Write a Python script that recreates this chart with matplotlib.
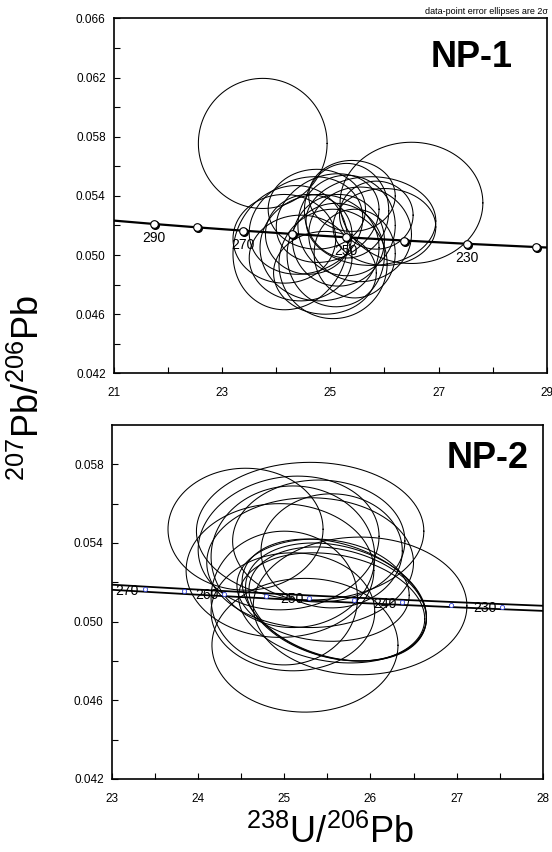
import numpy as np
import matplotlib
matplotlib.use("Agg")
import matplotlib.pyplot as plt
from matplotlib.ticker import FixedLocator, FormatStrFormatter
import matplotlib.transforms as mtransforms

plt.rcParams['font.family'] = ['Liberation Sans', 'DejaVu Sans']
plt.rcParams['mathtext.default'] = 'regular'

# ---------------- data ----------------
# Concordia (ages in Ma, 238U/206Pb, 207Pb/206Pb)
conc1_age = [300, 290, 280, 270, 260, 250, 240, 230, 220, 210]
conc1_x = [20.992, 21.732, 22.527, 23.379, 24.297, 25.289, 26.363, 27.531, 28.804, 30.200]
conc1_y = [0.052333, 0.052104, 0.051877, 0.051652, 0.051427, 0.051203, 0.050982, 0.050761, 0.050542, 0.050324]
conc1_marker_ages = [290, 280, 270, 260, 250, 240, 230, 220]
conc1_label_ages = [290, 270, 250, 230]

conc2_age = [275, 270, 265, 260, 255, 250, 245, 240, 235, 230, 225]
conc2_x = [22.945, 23.379, 23.830, 24.297, 24.783, 25.289, 25.815, 26.363, 26.935, 27.531, 28.154]
conc2_y = [0.051764, 0.051652, 0.051539, 0.051427, 0.051315, 0.051203, 0.051092, 0.050982, 0.050871, 0.050761, 0.050651]
conc2_band = 0.00013
conc2_marker_ages = [270, 265, 260, 255, 250, 245, 240, 235, 230]
conc2_label_ages = [270, 260, 250, 240, 230]

# tick values
np1_xticks = [21, 23, 25, 27, 29]
np1_xminor = [22, 24, 26, 28]
np1_yticks = [0.042, 0.046, 0.050, 0.054, 0.058, 0.062, 0.066]
np1_yminor = [0.044, 0.048, 0.052, 0.056, 0.060, 0.064]
np2_xticks = [23, 24, 25, 26, 27, 28]
np2_xminor = [23.5, 24.5, 25.5, 26.5, 27.5]
np2_yticks = [0.042, 0.046, 0.050, 0.054, 0.058]
np2_yminor = [0.044, 0.048, 0.052, 0.056]

# NP-1 error ellipses: centre x, centre y, half-width x, half-height y, correlation
np1_cx = [23.75, 26.50, 24.26, 24.15, 24.55, 24.80, 25.05, 25.30, 25.40, 25.75, 25.55,
          24.95, 25.15, 24.45, 25.10, 25.85, 24.75, 25.45, 24.60, 26.00, 24.90, 25.30]
np1_cy = [0.05755, 0.05353, 0.0505, 0.0511, 0.0520, 0.0505, 0.0494, 0.0530, 0.0540, 0.0523, 0.0514,
          0.0525, 0.0510, 0.0498, 0.0500, 0.0527, 0.0531, 0.0501, 0.0514, 0.0519, 0.0488, 0.0520]
np1_rx = [1.19, 1.32, 1.06, 0.95, 1.05, 1.10, 1.00, 0.78, 0.80, 1.20, 0.95,
          0.95, 0.85, 0.95, 0.90, 0.68, 0.90, 0.75, 0.80, 0.95, 0.95, 0.90]
np1_ry = [0.0044, 0.0041, 0.0042, 0.0030, 0.0033, 0.0036, 0.0037, 0.0032, 0.0024, 0.0030, 0.0032,
          0.0030, 0.0031, 0.0029, 0.0035, 0.0023, 0.0027, 0.0030, 0.0027, 0.0026, 0.0028, 0.0034]
np1_rho = [0.0, 0.0, 0.1, 0.0, 0.15, 0.0, 0.0, 0.0, 0.0, 0.0, 0.0,
           0.2, 0.0, 0.0, 0.0, 0.0, 0.0, 0.0, 0.0, 0.0, 0.0, 0.0]

# NP-2 error ellipses
np2_cx = [24.55, 25.30, 25.05, 25.40, 25.55, 24.95, 25.30, 25.10,
          25.24, 25.88, 25.60, 25.62, 25.58, 25.55, 25.10, 25.00, 25.45]
np2_cy = [0.0547, 0.0546, 0.0540, 0.0541, 0.0536, 0.0526, 0.0530, 0.0533,
          0.0488, 0.0508, 0.0510, 0.0509, 0.0511, 0.0507, 0.0505, 0.0512, 0.0516]
np2_rx = [0.90, 1.32, 1.05, 1.00, 0.82, 1.09, 1.20, 0.95,
          1.08, 1.24, 1.05, 1.03, 1.07, 1.08, 0.95, 0.85, 1.00]
np2_ry = [0.0031, 0.0035, 0.0034, 0.0031, 0.0029, 0.0034, 0.0033, 0.0036,
          0.0034, 0.0035, 0.0030, 0.0029, 0.0031, 0.0028, 0.0030, 0.0034, 0.0026]
np2_rho = [0.0, 0.0, 0.1, 0.0, 0.0, 0.0, 0.0, 0.0,
           0.0, 0.0, -0.25, -0.25, -0.3, -0.2, 0.0, 0.0, -0.1]

# ---------------- figure ----------------
fig = plt.figure(figsize=(5.52, 8.52), dpi=100)
ax1 = fig.add_axes([0.2065, 0.5618, 0.7839, 0.4165])
ax2 = fig.add_axes([0.2029, 0.0857, 0.7803, 0.4155])

theta = np.linspace(0, 2 * np.pi, 240)


def draw_ellipses(ax, cx, cy, rx, ry, rho):
    for x0, y0, a, b, r in zip(cx, cy, rx, ry, rho):
        xs = x0 + a * np.cos(theta)
        ys = y0 + b * (r * np.cos(theta) + np.sqrt(1 - r * r) * np.sin(theta))
        ax.plot(xs, ys, color='black', lw=0.75, zorder=2)


def style_axes(ax, xlim, ylim, xmaj, xmin, ymaj, ymin):
    ax.set_xlim(*xlim)
    ax.set_ylim(*ylim)
    ax.xaxis.set_major_locator(FixedLocator(xmaj))
    ax.xaxis.set_minor_locator(FixedLocator(xmin))
    ax.yaxis.set_major_locator(FixedLocator(ymaj))
    ax.yaxis.set_minor_locator(FixedLocator(ymin))
    ax.yaxis.set_major_formatter(FormatStrFormatter('%.3f'))
    ax.xaxis.set_major_formatter(FormatStrFormatter('%d'))
    ax.tick_params(which='both', direction='in', length=4, width=0.8,
                   labelsize=8.5, top=False, right=False)
    ax.tick_params(axis='x', pad=10)
    ax.tick_params(axis='y', pad=6)
    for s in ax.spines.values():
        s.set_linewidth(1.2)


# ---- NP-1 ----
draw_ellipses(ax1, np1_cx, np1_cy, np1_rx, np1_ry, np1_rho)
ax1.plot(conc1_x, conc1_y, color='black', lw=1.6, zorder=3)
mx = [conc1_x[conc1_age.index(a)] for a in conc1_marker_ages]
my = [conc1_y[conc1_age.index(a)] for a in conc1_marker_ages]
shadow = ax1.transData + mtransforms.ScaledTranslation(0.8 / 72, -0.8 / 72, fig.dpi_scale_trans)
ax1.plot(mx, my, 'o', ms=5.5, mfc='black', mec='black', transform=shadow, zorder=4)
ax1.plot(mx, my, 'o', ms=5.5, mfc='white', mec='black', mew=0.8, zorder=5)
for a in conc1_label_ages:
    i = conc1_age.index(a)
    ax1.annotate(str(a), (conc1_x[i], conc1_y[i]), xytext=(0, -5), textcoords='offset points',
                 ha='center', va='top', fontsize=10, zorder=6)
style_axes(ax1, (21, 29), (0.042, 0.066), np1_xticks, np1_xminor, np1_yticks, np1_yminor)
ax1.text(0.827, 0.89, 'NP-1', transform=ax1.transAxes, ha='center', va='center',
         fontsize=26, fontweight='bold')

# ---- NP-2 ----
draw_ellipses(ax2, np2_cx, np2_cy, np2_rx, np2_ry, np2_rho)
ax2.plot(conc2_x, [y + conc2_band for y in conc2_y], color='black', lw=1.3, zorder=3)
ax2.plot(conc2_x, [y - conc2_band for y in conc2_y], color='black', lw=1.3, zorder=3)
mx2 = [conc2_x[conc2_age.index(a)] for a in conc2_marker_ages]
my2 = [conc2_y[conc2_age.index(a)] for a in conc2_marker_ages]
ax2.plot(mx2, my2, 'o', ms=3, mfc='white', mec='#3040d0', mew=0.6, zorder=5)
for a in conc2_label_ages:
    i = conc2_age.index(a)
    ax2.annotate(str(a), (conc2_x[i], conc2_y[i]), xytext=(-4, -1), textcoords='offset points',
                 ha='right', va='center', fontsize=10, zorder=6)
style_axes(ax2, (23, 28), (0.042, 0.060), np2_xticks, np2_xminor, np2_yticks, np2_yminor)
ax2.text(0.872, 0.904, 'NP-2', transform=ax2.transAxes, ha='center', va='center',
         fontsize=26, fontweight='bold')

fig.text(0.993, 0.987, 'data-point error ellipses are 2σ', ha='right', va='center', fontsize=6.5)
fig.text(0.052, 0.545, r'$^{207}$Pb/$^{206}$Pb', rotation=90, ha='center', va='center', fontsize=26)
fig.text(0.598, 0.023, r'$^{238}$U/$^{206}$Pb', ha='center', va='center', fontsize=26)

fig.savefig('out.png', dpi=100)
